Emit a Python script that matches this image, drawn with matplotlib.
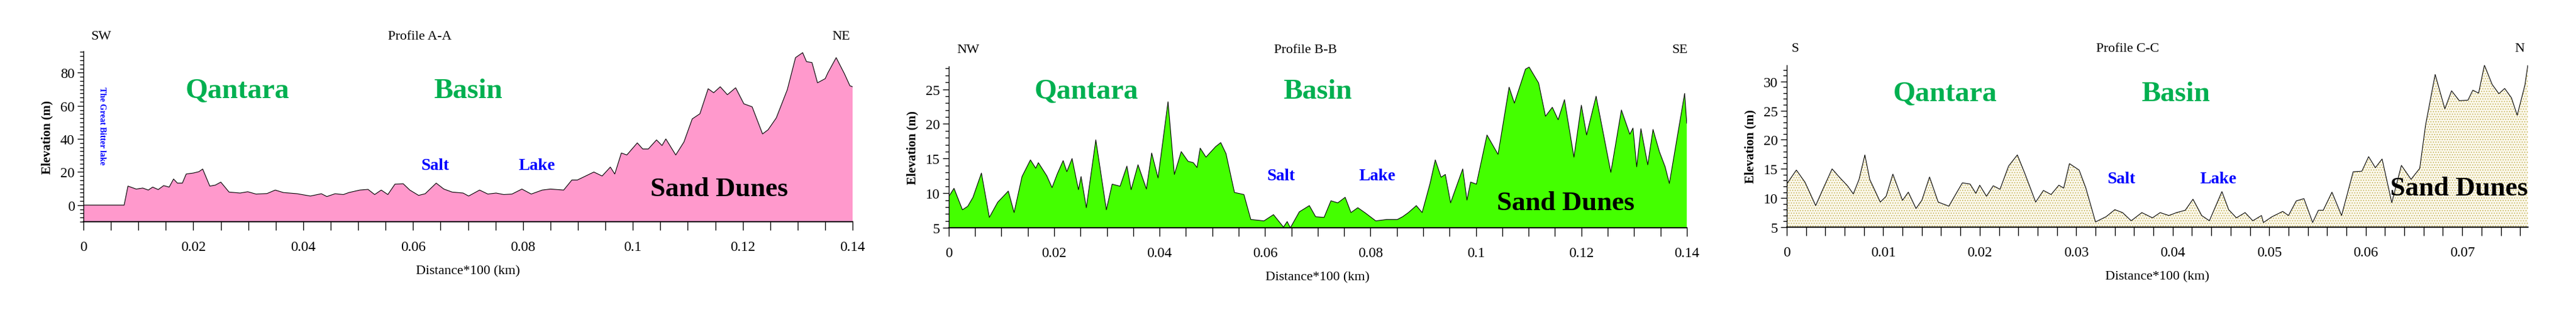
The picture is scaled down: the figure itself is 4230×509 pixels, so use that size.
import matplotlib
matplotlib.use("Agg")
import matplotlib.pyplot as plt
from matplotlib.ticker import MultipleLocator

plt.rcParams['font.family'] = ['Liberation Serif', 'DejaVu Serif']
plt.rcParams['hatch.linewidth'] = 0.8

# Profile A-A
a_dist = [0,0.0074,0.0081,0.0096,0.0108,0.0118,0.0126,0.0136,0.0146,0.0156,0.0164,0.0171,0.0180,0.0187,0.0200,0.0210,0.0217,0.0230,0.0240,0.0250,0.0265,0.0285,0.0299,0.0314,0.0334,0.0349,0.0364,0.0389,0.0413,0.0433,0.0443,0.0458,0.0473,0.0483,0.0503,0.0518,0.0530,0.0542,0.0554,0.0567,0.0582,0.0594,0.0610,0.0622,0.0642,0.0656,0.0671,0.0691,0.0701,0.0721,0.0736,0.0751,0.0765,0.0780,0.0798,0.0815,0.0835,0.0850,0.0874,0.0889,0.0899,0.0914,0.0929,0.0944,0.0959,0.0967,0.0979,0.0989,0.1008,0.1018,0.1028,0.1043,0.1053,0.1060,0.1078,0.1093,0.1108,0.1122,0.1137,0.1147,0.1159,0.1172,0.1187,0.1202,0.1217,0.1236,0.1246,0.1261,0.1281,0.1296,0.1309,0.1316,0.1326,0.1336,0.1350,0.1355,0.1370,0.1385,0.1395,0.1400]
a_elev = [0,0,11.5,9.7,10.3,9.1,10.9,9.4,11.8,10.9,15.8,13.3,13.3,18.8,19.4,20.2,21.8,11.5,12.1,13.9,7.9,7.3,8.1,6.7,7.0,9.1,7.6,6.9,5.5,6.9,5.2,6.9,6.4,7.6,9.1,9.5,6.4,9.1,6.4,12.7,12.9,9.1,5.9,6.9,13.3,9.7,7.9,7.3,5.5,9.1,6.7,7.3,6.4,6.7,9.7,6.7,9.1,9.7,9.1,15.2,15.2,17.6,20.0,17.6,23.0,18.8,31.5,30.3,37.6,33.9,33.9,39.4,36.0,40.0,30.3,38.2,52.1,55.2,70.3,67.9,71.5,66.7,70.9,61.2,59.4,43.0,45.5,52.7,69.7,89.1,92.1,86.7,86.1,73.9,76.4,80.0,89.1,79.4,72.1,71.5]

# Profile B-B
b_dist = [0,0.0010,0.0026,0.0036,0.0046,0.0062,0.0077,0.0093,0.0113,0.0124,0.0139,0.0155,0.0165,0.0170,0.0186,0.0196,0.0206,0.0217,0.0224,0.0234,0.0246,0.0251,0.0261,0.0279,0.0299,0.0310,0.0325,0.0338,0.0346,0.0359,0.0375,0.0385,0.0397,0.0416,0.0428,0.0441,0.0454,0.0464,0.0471,0.0477,0.0488,0.0506,0.0516,0.0526,0.0542,0.0560,0.0573,0.0598,0.0616,0.0635,0.0642,0.0648,0.0665,0.0684,0.0696,0.0712,0.0725,0.0738,0.0752,0.0763,0.0776,0.0791,0.0810,0.0831,0.0851,0.0861,0.0872,0.0887,0.0898,0.0913,0.0923,0.0934,0.0942,0.0952,0.0975,0.0983,0.0990,0.1001,0.1021,0.1042,0.1063,0.1073,0.1094,0.1101,0.1119,0.1132,0.1145,0.1156,0.1168,0.1186,0.1200,0.1210,0.1228,0.1256,0.1276,0.1292,0.1298,0.1305,0.1313,0.1326,0.1336,0.1348,0.1359,0.1367,0.1381,0.1396,0.1400]
b_elev = [9.5,10.7,7.6,8.1,9.4,12.9,6.5,8.7,10.3,7.2,12.4,14.8,13.6,14.4,12.5,10.8,12.8,14.7,13.1,15.0,10.5,12.4,7.9,17.7,7.6,11.3,11.0,13.9,10.5,14.1,10.6,15.8,12.2,23.2,12.7,16.0,14.6,14.4,13.7,16.5,15.2,16.7,17.3,15.7,10.1,9.8,6.2,6.0,6.9,5.1,5.9,5.0,7.3,8.2,6.6,6.5,8.9,8.6,9.4,7.2,7.9,7.1,6.0,6.2,6.2,6.6,7.2,8.2,7.2,11.4,14.8,12.3,12.7,8.6,13.5,9.0,11.6,11.3,18.4,15.6,25.3,23.0,27.9,28.2,25.9,21.1,22.4,20.6,23.5,15.2,22.7,18.4,24.0,13.0,22.0,18.5,19.4,13.8,19.3,14.1,19.2,16.0,13.8,11.4,17.7,24.4,20.1]

# Profile C-C
c_dist = [0,0.0010,0.0019,0.0030,0.0038,0.0047,0.0055,0.0063,0.0069,0.0075,0.0081,0.0086,0.0097,0.0103,0.0110,0.0120,0.0126,0.0134,0.0140,0.0148,0.0157,0.0168,0.0182,0.0190,0.0196,0.0200,0.0207,0.0214,0.0221,0.0230,0.0239,0.0247,0.0258,0.0266,0.0274,0.0282,0.0287,0.0293,0.0303,0.0310,0.0320,0.0331,0.0340,0.0348,0.0357,0.0368,0.0379,0.0387,0.0396,0.0404,0.0413,0.0421,0.0430,0.0438,0.0451,0.0458,0.0466,0.0475,0.0483,0.0492,0.0494,0.0503,0.0514,0.0520,0.0528,0.0536,0.0545,0.0551,0.0556,0.0565,0.0575,0.0587,0.0596,0.0603,0.0610,0.0617,0.0627,0.0637,0.0647,0.0656,0.0662,0.0672,0.0682,0.0689,0.0697,0.0706,0.0711,0.0717,0.0723,0.0731,0.0738,0.0744,0.0751,0.0757,0.0765,0.0768]
c_elev = [12.4,14.8,12.7,8.7,11.7,15.0,13.5,12.1,10.7,13.2,17.4,13.2,9.3,10.3,14.1,9.6,11.0,8.2,9.6,13.6,9.3,8.6,12.6,12.4,10.8,12.2,10.3,12.1,11.5,15.5,17.4,14.1,9.3,11.3,10.6,12.2,11.7,15.9,14.8,11.7,5.9,6.8,8.0,7.5,6.1,7.5,6.6,7.5,7.0,7.5,7.9,9.8,7.0,6.1,11.1,8.0,6.6,7.5,6.1,7.0,5.8,6.8,7.7,7.0,9.5,9.9,5.8,7.9,7.9,11.0,7.0,14.5,14.6,17.1,15.2,16.7,9.2,15.6,13.2,15.1,22.5,31.2,25.3,28.4,26.7,26.8,28.5,28.0,32.8,29.5,27.9,28.8,27.2,24.2,29.4,32.8]

panels = [
    dict(x=a_dist, y=a_elev, title='Profile A-A', left='SW', right='NE',
         rect=[0.0324, 0.2843, 0.2986, 0.549], xlim=(0, 0.14), ylim=(-10, 93),
         xmaj=0.02, xmin=0.005, ymaj=20, ymin=2.5, fill=dict(facecolor='#ff99cc'),
         dir_pos=(0.023, 0.437, 0.985, 1.054),
         labels=[('Qantara', 0.028, 69), ('Basin', 0.070, 69)],
         salt=[('Salt', 0.064, 24), ('Lake', 0.0825, 24)], dunes=(0.1157, 9.7)),
    dict(x=b_dist, y=b_elev, title='Profile B-B', left='NW', right='SE',
         rect=[0.3683, 0.2647, 0.2865, 0.5196], xlim=(0, 0.14), ylim=(5, 28.3),
         xmaj=0.02, xmin=0.005, ymaj=5, ymin=1, fill=dict(facecolor='#44ff00'),
         dir_pos=(0.026, 0.483, 0.991, 1.068),
         labels=[('Qantara', 0.0261, 24.7), ('Basin', 0.070, 24.7)],
         salt=[('Salt', 0.063, 12.5), ('Lake', 0.0813, 12.5)], dunes=(0.117, 8.6)),
    dict(x=c_dist, y=c_elev, title='Profile C-C', left='S', right='N',
         rect=[0.6936, 0.2667, 0.2877, 0.5216], xlim=(0, 0.0768), ylim=(5, 32.8),
         xmaj=0.01, xmin=0.002, ymaj=5, ymin=1,
         fill=dict(facecolor='#fbf8ec', hatch='....', edgecolor='#c8b860', linewidth=0),
         dir_pos=(0.011, 0.46, 0.989, 1.068),
         labels=[('Qantara', 0.0164, 27.9), ('Basin', 0.0403, 27.9)],
         salt=[('Salt', 0.0347, 13.3), ('Lake', 0.0447, 13.3)], dunes=(0.0697, 11.7)),
]

fig = plt.figure(figsize=(42.3, 5.1), dpi=100)
for p in panels:
    ax = fig.add_axes(p['rect'])
    ax.fill_between(p['x'], p['y'], p['ylim'][0], **p['fill'])
    ax.plot(p['x'], p['y'], color='black', lw=0.8)
    ax.set_xlim(*p['xlim'])
    ax.set_ylim(*p['ylim'])
    for s in ['top', 'right']:
        ax.spines[s].set_visible(False)
    ax.spines['left'].set_linewidth(1.0)
    ax.spines['bottom'].set_linewidth(1.5)
    ax.xaxis.set_major_locator(MultipleLocator(p['xmaj']))
    ax.xaxis.set_minor_locator(MultipleLocator(p['xmin']))
    ax.yaxis.set_major_locator(MultipleLocator(p['ymaj']))
    ax.yaxis.set_minor_locator(MultipleLocator(p['ymin']))
    ax.tick_params(axis='x', which='both', direction='out', length=10, width=1, labelsize=17, pad=12)
    ax.tick_params(axis='y', which='major', direction='out', length=7, width=1, labelsize=17)
    ax.tick_params(axis='y', which='minor', direction='out', length=4, width=1)
    ax.xaxis.set_major_formatter(matplotlib.ticker.FuncFormatter(lambda v, _: ('%g' % round(v, 4))))
    ax.set_xlabel('Distance*100 (km)', fontsize=16, labelpad=14)
    ax.set_ylabel('Elevation (m)', fontsize=15, fontweight='bold', labelpad=8)
    lx, tx, rx, ty = p['dir_pos']
    ax.text(lx, ty, p['left'], transform=ax.transAxes, ha='center', va='bottom', fontsize=16)
    ax.text(tx, ty, p['title'], transform=ax.transAxes, ha='center', va='bottom', fontsize=16)
    ax.text(rx, ty, p['right'], transform=ax.transAxes, ha='center', va='bottom', fontsize=16)
    for t, x, y in p['labels']:
        ax.text(x, y, t, ha='center', va='center', fontsize=34, fontweight='bold', color='#00b050')
    for t, x, y in p['salt']:
        ax.text(x, y, t, ha='center', va='center', fontsize=20, fontweight='bold', color='#0000ff')
    ax.text(p['dunes'][0], p['dunes'][1], 'Sand Dunes', ha='center', va='center', fontsize=32,
            fontweight='bold', color='black', clip_on=False)
    if p['title'] == 'Profile A-A':
        ax.text(0.0034, 48, 'The Great Bitter lake', rotation=-90, ha='center', va='center',
                fontsize=10, fontweight='bold', color='#0000ff')

fig.savefig('out.png', dpi=100)
